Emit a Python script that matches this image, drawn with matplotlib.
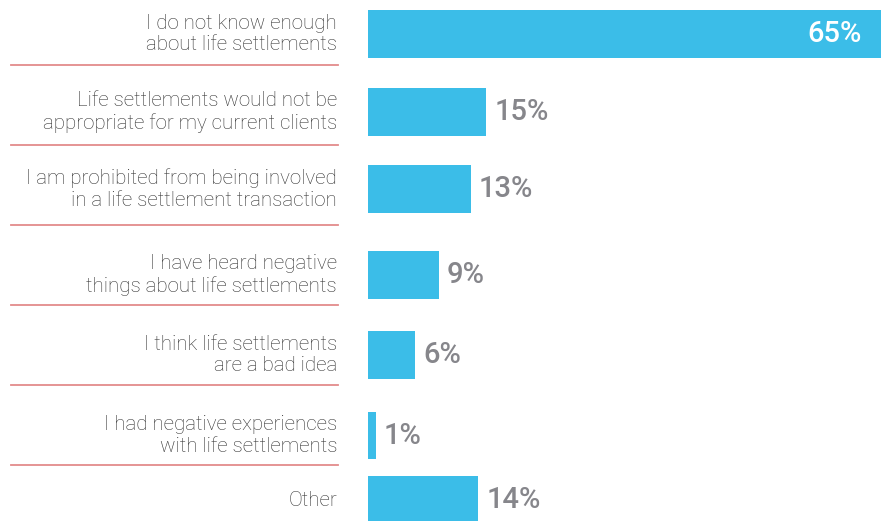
import matplotlib
matplotlib.use("Agg")
import matplotlib.pyplot as plt
import matplotlib.transforms as mtransforms

# survey answers, top to bottom
labels = [
    "I do not know enough\nabout life settlements",
    "Life settlements would not be\nappropriate for my current clients",
    "I am prohibited from being involved\nin a life settlement transaction",
    "I have heard negative\nthings about life settlements",
    "I think life settlements\nare a bad idea",
    "I had negative experiences\nwith life settlements",
    "Other",
]
percents = [65, 15, 13, 9, 6, 1, 14]

# layout (pixel rows of a 884x521 canvas)
row_y = [34, 112, 189, 275, 355, 435.5, 500]
sep_y = [65, 145, 225, 305, 384.5, 465]
bar_h = 47.7

BLUE = "#3bbde8"
LABEL_C = "#333333"
PCT_C = "#86868b"
SEP_C = "#e38b8b"

plt.rcParams["font.family"] = ["Roboto", "DejaVu Sans"]

fig = plt.figure(figsize=(8.84, 5.21), dpi=100)
ax = fig.add_axes([368 / 884, 0, 516 / 884, 1])
ax.set_xlim(0, 65 * 516 / 513)
ax.set_ylim(521, 0)
ax.axis("off")

ax.barh(row_y, percents, height=bar_h, left=0, color=BLUE)

for y, lab, p in zip(row_y, labels, percents):
    ax.annotate(lab, xy=(0, y), xytext=(-31, 0), textcoords="offset pixels",
                ha="right", va="center", fontsize=14.8, color=LABEL_C,
                fontweight="light", linespacing=1.15)
    if p >= 50:
        ax.annotate(f"{p}%", xy=(p, y), xytext=(-19, 0), textcoords="offset pixels",
                    ha="right", va="center", fontsize=21, color="white",
                    fontweight="medium")
    else:
        ax.annotate(f"{p}%", xy=(p, y), xytext=(8, 0), textcoords="offset pixels",
                    ha="left", va="center", fontsize=21, color=PCT_C,
                    fontweight="medium")

trans = mtransforms.blended_transform_factory(ax.transAxes, ax.transData)
for y in sep_y:
    ax.plot([(11 - 368) / 516, (338 - 368) / 516], [y, y], color=SEP_C,
            lw=1.3, transform=trans, clip_on=False)

fig.savefig("out.png", dpi=100)
